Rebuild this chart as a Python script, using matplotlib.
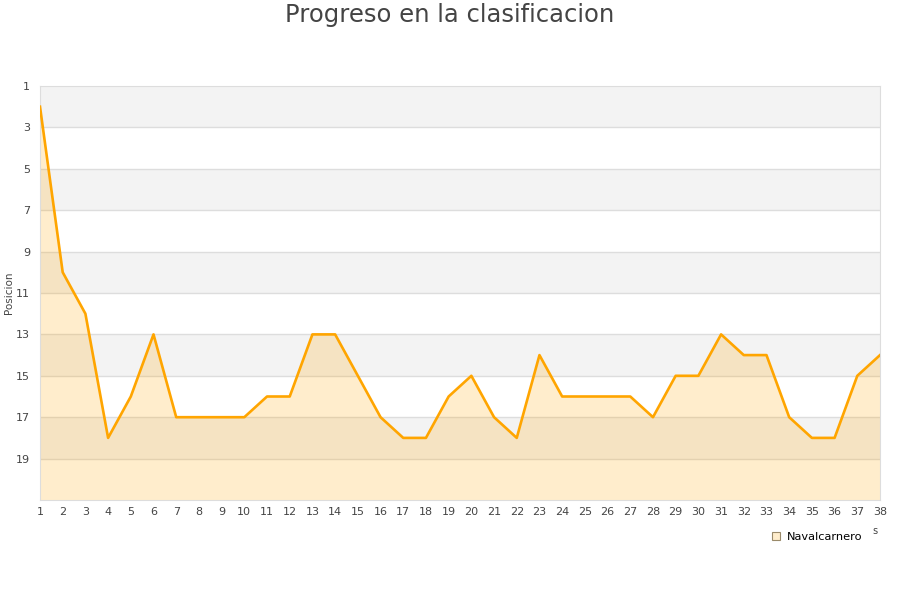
import matplotlib
matplotlib.use("Agg")
import matplotlib.pyplot as plt
import numpy as np

# jornadas and league position
jornadas = list(range(1, 39))
posicion = [2, 10, 12, 18, 16, 13, 17, 17, 17, 17,
            16, 16, 13, 13, 15, 17, 18, 18, 16, 15,
            17, 18, 14, 16, 16, 16, 16, 17, 15, 15,
            13, 14, 14, 17, 18, 18, 15, 14]
y_ticks = [1, 3, 5, 7, 9, 11, 13, 15, 17, 19]
equipo = "Navalcarnero"

LINE = "#ffa500"
TXT = "#444444"

fig = plt.figure(figsize=(9, 6), dpi=100)
ax = fig.add_axes([40 / 900, 1 - 500 / 600, 840 / 900, 414 / 600])

# alternating bands
for i, lo in enumerate(y_ticks):
    if i % 2 == 0:
        ax.axhspan(lo, lo + 2, color="#f3f3f3", zorder=0, lw=0)
for t in y_ticks[1:]:
    ax.axhline(t, color="#dddddd", lw=1, zorder=1)

ax.fill_between(jornadas, posicion, 21, color=LINE, alpha=0.2, lw=0, zorder=2)
ax.plot(jornadas, posicion, color=LINE, lw=1.9, zorder=3)

ax.set_xlim(1, 38)
ax.set_ylim(21, 1)
ax.set_xticks(jornadas)
ax.set_yticks(y_ticks)
ax.tick_params(length=0, labelsize=8, colors=TXT)
ax.tick_params(axis="x", pad=5)
ax.tick_params(axis="y", pad=7)
for s in ax.spines.values():
    s.set_color("#dddddd")
fig.text(9 / 900, 1 - 293 / 600, "Posicion", fontsize=7.5, color=TXT,
         rotation=90, ha="center", va="center")

fig.suptitle("Progreso en la clasificacion", fontsize=17.5, color=TXT, y=0.995)

ax.plot([], [], ls="none", marker="s", ms=6, mfc="#ffedcc", mec="#9a8a6a",
        mew=0.8, label=equipo)
ax.legend(loc="center left", bbox_to_anchor=(770 / 900, 1 - 537 / 600),
          bbox_transform=fig.transFigure, frameon=False, fontsize=8.2,
          handlelength=1.0, handletextpad=0.5, borderpad=0, borderaxespad=0)
fig.text(875 / 900, 1 - 531 / 600, "s", fontsize=7, color=TXT,
         ha="center", va="center")

fig.savefig("out.png", dpi=100)
